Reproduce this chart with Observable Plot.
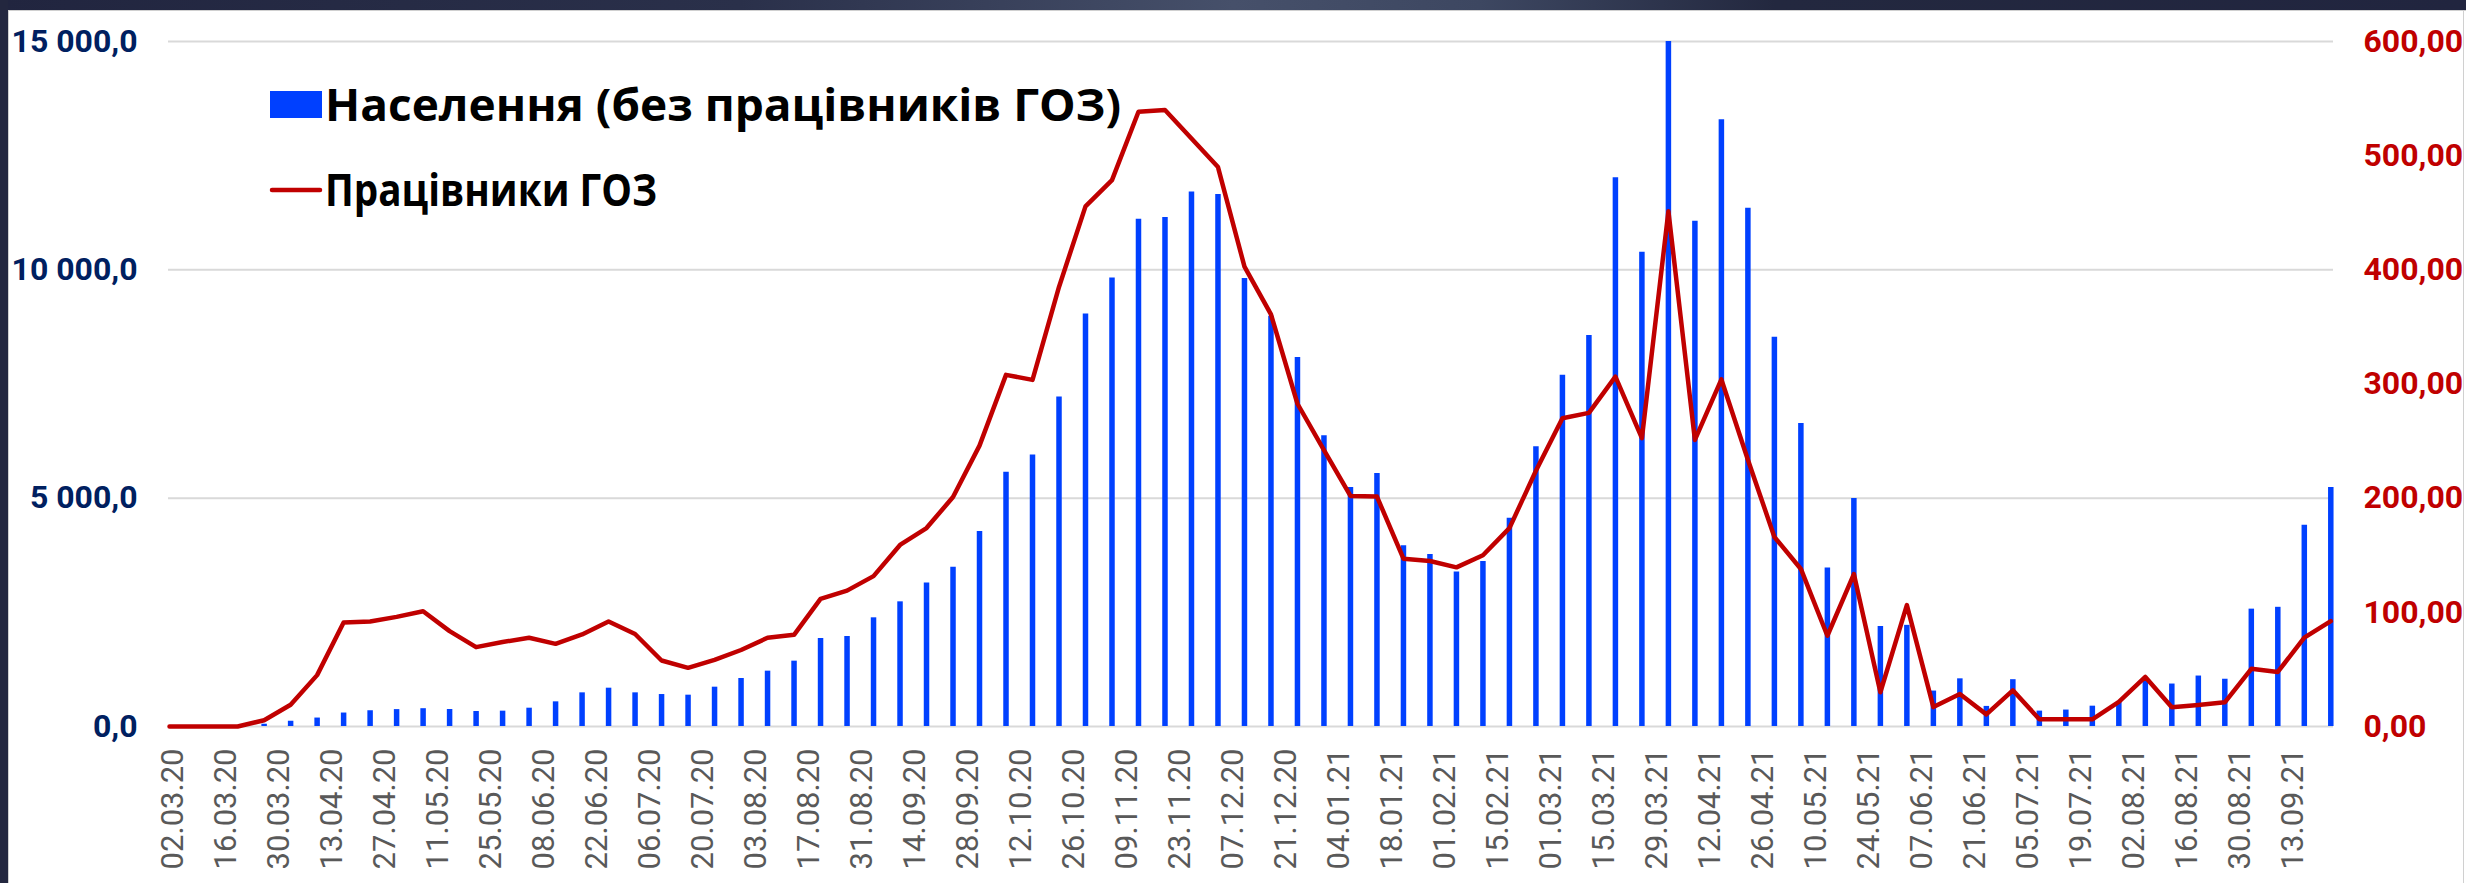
<!DOCTYPE html>
<html><head><meta charset="utf-8">
<script src="https://cdn.jsdelivr.net/npm/d3@7"></script>
<script src="https://cdn.jsdelivr.net/npm/@observablehq/plot@0.6"></script>
<style>
html,body{margin:0;padding:0;background:#fff;}
#wrap{position:relative;width:2466px;height:883px;overflow:hidden;background:#fff;}
#wrap svg{position:absolute;left:0;top:0;}
</style></head><body><div id="wrap"></div>
<script>
const dates = ["2020-03-01","2020-03-19",
"2020-03-26","2020-04-02","2020-04-09","2020-04-16","2020-04-23","2020-04-30","2020-05-07","2020-05-14","2020-05-21","2020-05-28",
"2020-06-04","2020-06-11","2020-06-18","2020-06-25","2020-07-02","2020-07-09","2020-07-16","2020-07-23","2020-07-30","2020-08-06",
"2020-08-13","2020-08-20","2020-08-27","2020-09-03","2020-09-10","2020-09-17","2020-09-24","2020-10-01","2020-10-08","2020-10-15",
"2020-10-22","2020-10-29","2020-11-05","2020-11-12","2020-11-19","2020-11-26","2020-12-03","2020-12-10","2020-12-17","2020-12-24","2020-12-31",
"2021-01-07","2021-01-14","2021-01-21","2021-01-28","2021-02-04","2021-02-11","2021-02-18","2021-02-25","2021-03-04","2021-03-11",
"2021-03-18","2021-03-25","2021-04-01","2021-04-08","2021-04-15","2021-04-22","2021-04-29","2021-05-06","2021-05-13","2021-05-20",
"2021-05-27","2021-06-03","2021-06-10","2021-06-17","2021-06-24","2021-07-01","2021-07-08","2021-07-15","2021-07-22","2021-07-29",
"2021-08-05","2021-08-12","2021-08-19","2021-08-26","2021-09-02","2021-09-09","2021-09-16","2021-09-23"];
const population = [0, 0,
50,115,185,295,345,370,390,372,328,336,
401,540,737,839,737,700,686,861,1051,1212,
1431,1927,1971,2380,2730,3143,3487,4270,5569,5946,
7213,9034,9819,11107,11148,11703,11651,9809,8982,8081,
6365,5234,5538,3957,3768,3381,3611,4560,6124,7694,
8563,12017,10384,15000,11065,13284,11347,8521,6637,3470,
4990,2190,2215,776,1044,440,1025,337,360,445,
535,1050,930,1105,1035,2570,2610,4407,5234];
const healthWorkers = [0, 0,
5.5,19,45,91,92,96,101,83.5,69.5,74,
77.7,72.4,80.6,92,81,57.8,51.4,58.4,67,77.7,
80.3,111.8,119,131.7,159,173.8,201,246,308,303.6,
385,455.6,478.6,538.5,540,515,490,402.8,361,282.7,
242,202,201.4,147,145,139.4,150,173.8,224,270,
274.7,306.5,252.5,451.4,251,304,233.7,166,138,79.5,
133.5,30,106.3,17,28.5,10.6,31.7,6.3,6.3,6.3,
21.5,43.4,16.8,18.9,21.2,50.5,47.8,77.8,92.3];
const tickLabels = ["02.03.20","16.03.20","30.03.20","13.04.20","27.04.20","11.05.20","25.05.20","08.06.20","22.06.20","06.07.20",
"20.07.20","03.08.20","17.08.20","31.08.20","14.09.20","28.09.20","12.10.20","26.10.20","09.11.20","23.11.20","07.12.20","21.12.20",
"04.01.21","18.01.21","01.02.21","15.02.21","01.03.21","15.03.21","29.03.21","12.04.21","26.04.21","10.05.21","24.05.21","07.06.21",
"21.06.21","05.07.21","19.07.21","02.08.21","16.08.21","30.08.21","13.09.21"];
const leftTicks = [0, 5000, 10000, 15000];
const rightTicks = [0, 100, 200, 300, 400, 500, 600];
const seriesNames = ["Населення (без працівників ГОЗ)", "Працівники ГОЗ"];

const ratio = leftTicks[leftTicks.length - 1] / rightTicks[rightTicks.length - 1];
const parseDay = d3.utcParse("%Y-%m-%d");
const parseTick = d3.utcParse("%d.%m.%y");
const data = dates.map((d, i) => ({date: parseDay(d), pop: population[i], hcw: healthWorkers[i]}));
const tickDates = tickLabels.map(parseTick);
const fmtLeft = v => d3.format(",")(v).replace(/,/g, " ") + ",0";
const fmtRight = v => d3.format(".2f")(v).replace(".", ",");

const chart = Plot.plot({
  width: 2466, height: 883,
  marginTop: 41, marginBottom: 157, marginLeft: 168, marginRight: 133,
  style: {fontFamily: "Roboto, sans-serif", background: "transparent", overflow: "visible"},
  x: {type: "utc", domain: d3.extent(data, d => d.date), range: [169, 2330.3]},
  y: {domain: [leftTicks[0], leftTicks[leftTicks.length - 1]]},
  marks: [
    Plot.gridY(leftTicks, {stroke: "#d9d9d9", strokeOpacity: 1, strokeWidth: 2}),
    Plot.ruleX(data, {x: "date", y1: 0, y2: "pop", stroke: "#0040ff", strokeWidth: 5.5}),
    Plot.line(data, {x: "date", y: d => d.hcw * ratio, stroke: "#c00000", strokeWidth: 4.5, strokeLinejoin: "round", strokeLinecap: "round"}),
    Plot.axisY(leftTicks, {anchor: "left", tickSize: 0, tickPadding: 31, tickFormat: fmtLeft, fontSize: 32, fontWeight: "bold", fill: "#002060", label: null}),
    Plot.axisY(rightTicks.map(v => v * ratio), {anchor: "right", tickSize: 0, tickPadding: 30, tickFormat: v => fmtRight(v / ratio), fontSize: 32, fontWeight: "bold", fill: "#c00000", label: null}),
    Plot.axisX(tickDates, {anchor: "bottom", tickSize: 0, tickPadding: 22, tickRotate: -90, tickFormat: d3.utcFormat("%d.%m.%y"), fontSize: 31, fontWeight: 400, fill: "#595959", label: null})
  ]
});
document.getElementById("wrap").appendChild(chart);

// frame + legend overlay
const ov = d3.select("#wrap").append("svg").attr("width", 2466).attr("height", 883).style("pointer-events", "none");
const grad = ov.append("defs").append("linearGradient").attr("id", "band").attr("x1", "0").attr("x2", "1").attr("y1", "0").attr("y2", "0");
[[0, "#21253f"], [0.3, "#2a304a"], [0.5, "#46506a"], [0.6, "#3d4761"], [0.72, "#23283f"], [1, "#21253f"]]
  .forEach(([o, c]) => grad.append("stop").attr("offset", o).attr("stop-color", c));
ov.append("rect").attr("x", 0).attr("y", 0).attr("width", 2466).attr("height", 10).attr("fill", "url(#band)");
ov.append("rect").attr("x", 0).attr("y", 0).attr("width", 8).attr("height", 883).attr("fill", "#23273f");
ov.append("line").attr("x1", 8).attr("x2", 2466).attr("y1", 10.5).attr("y2", 10.5).attr("stroke", "#d0d0d0");
ov.append("line").attr("x1", 8.5).attr("x2", 8.5).attr("y1", 10).attr("y2", 883).attr("stroke", "#d0d0d0");
ov.append("line").attr("x1", 2463.5).attr("x2", 2463.5).attr("y1", 10).attr("y2", 883).attr("stroke", "#d0d0d0");

const lg = ov.append("g").style("font-family", "'Open Sans', sans-serif").style("font-weight", 700).style("font-size", "44px");
lg.append("rect").attr("x", 270).attr("y", 91).attr("width", 52).attr("height", 27).attr("fill", "#0040ff");
lg.append("text").attr("x", 325).attr("y", 120.5).attr("textLength", 796).attr("lengthAdjust", "spacingAndGlyphs").attr("fill", "#000").text(seriesNames[0]);
lg.append("line").attr("x1", 272).attr("x2", 320).attr("y1", 190).attr("y2", 190).attr("stroke", "#c00000").attr("stroke-width", 4.5).attr("stroke-linecap", "round");
lg.append("text").attr("x", 325).attr("y", 205.5).attr("textLength", 332).attr("lengthAdjust", "spacingAndGlyphs").attr("fill", "#000").text(seriesNames[1]);
</script></body></html>
